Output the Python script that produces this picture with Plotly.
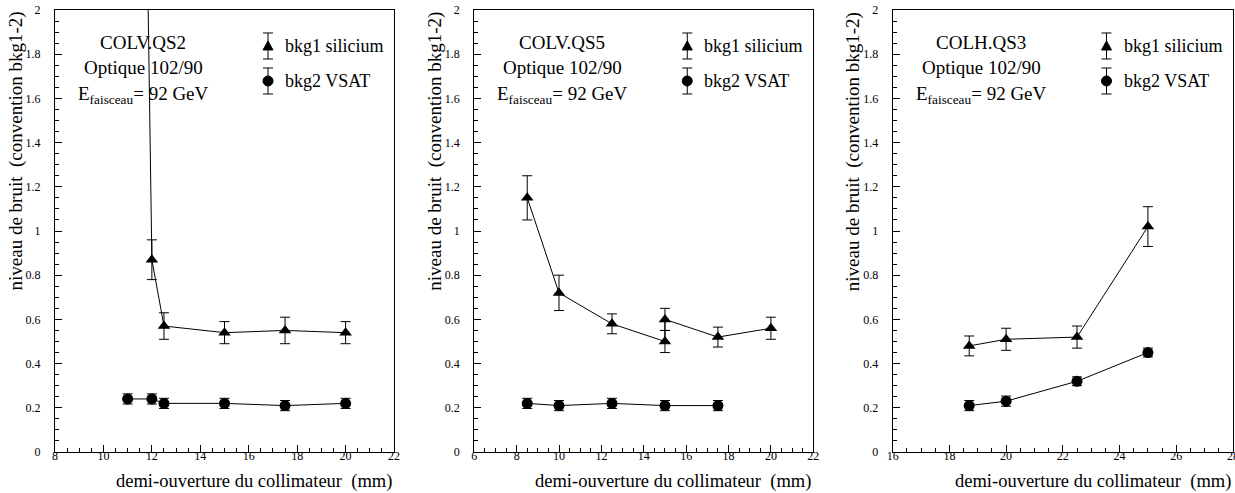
import plotly.graph_objects as go

# panel 1 : COLV.QS2
qs2_x_si = [11, 12, 12.5, 15, 17.5, 20]
qs2_y_si = [8.3, 0.87, 0.57, 0.54, 0.55, 0.54]
qs2_e_si = [0.3, 0.09, 0.06, 0.05, 0.06, 0.05]
qs2_x_vs = [11, 12, 12.5, 15, 17.5, 20]
qs2_y_vs = [0.24, 0.24, 0.22, 0.22, 0.21, 0.22]
qs2_e_vs = [0.023, 0.023, 0.023, 0.023, 0.023, 0.023]

# panel 2 : COLV.QS5
qs5_x_si = [8.5, 10, 12.5, 15, 15, 17.5, 20]
qs5_y_si = [1.15, 0.72, 0.58, 0.50, 0.60, 0.52, 0.56]
qs5_e_si = [0.10, 0.08, 0.045, 0.05, 0.05, 0.045, 0.05]
qs5_x_vs = [8.5, 10, 12.5, 15, 17.5]
qs5_y_vs = [0.22, 0.21, 0.22, 0.21, 0.21]
qs5_e_vs = [0.023, 0.023, 0.023, 0.023, 0.023]

# panel 3 : COLH.QS3
qs3_x_si = [18.7, 20, 22.5, 25]
qs3_y_si = [0.48, 0.51, 0.52, 1.02]
qs3_e_si = [0.045, 0.05, 0.05, 0.09]
qs3_x_vs = [18.7, 20, 22.5, 25]
qs3_y_vs = [0.21, 0.23, 0.32, 0.45]
qs3_e_vs = [0.023, 0.023, 0.02, 0.02]

titles = ["COLV.QS2", "COLV.QS5", "COLH.QS3"]
x_ranges = [[8, 22], [6, 22], [16, 28]]

panels = [
    (qs2_x_si, qs2_y_si, qs2_e_si, qs2_x_vs, qs2_y_vs, qs2_e_vs),
    (qs5_x_si, qs5_y_si, qs5_e_si, qs5_x_vs, qs5_y_vs, qs5_e_vs),
    (qs3_x_si, qs3_y_si, qs3_e_si, qs3_x_vs, qs3_y_vs, qs3_e_vs),
]

FONT = "Liberation Serif, Times New Roman, serif"
domains = [[0.0, 0.2878], [0.3559, 0.6437], [0.7111, 1.0]]
NB = "\u00a0"

fig = go.Figure()
layout = dict(
    width=1235, height=493,
    margin=dict(l=55, r=2, t=10, b=41, autoexpand=False),
    paper_bgcolor="white", plot_bgcolor="white",
    showlegend=False,
    font=dict(family=FONT, color="black"),
)
annotations = []
shapes = []

for i, (xs, ys, es, xv, yv, ev) in enumerate(panels):
    n = "" if i == 0 else str(i + 1)
    xa, ya = "x" + n, "y" + n
    err = lambda e: dict(type="data", array=e, visible=True, color="black",
                         thickness=1, width=5)
    fig.add_trace(go.Scatter(
        x=xs, y=ys, error_y=err(es), mode="lines+markers",
        line=dict(color="black", width=1),
        marker=dict(symbol="triangle-up", size=11, color="black"),
        xaxis=xa, yaxis=ya, name="bkg1 silicium"))
    fig.add_trace(go.Scatter(
        x=xv, y=yv, error_y=err(ev), mode="lines+markers",
        line=dict(color="black", width=1),
        marker=dict(symbol="circle", size=11, color="black"),
        xaxis=xa, yaxis=ya, name="bkg2 VSAT"))

    layout["xaxis" + n] = dict(
        domain=domains[i], range=x_ranges[i], anchor=ya,
        dtick=2, ticks="inside", ticklen=7, tickcolor="black",
        minor=dict(dtick=0.5, ticks="inside", ticklen=4, tickcolor="black"),
        showline=True, linecolor="black", linewidth=1, mirror=True,
        showgrid=False, zeroline=False, ticklabeloverflow="allow",
        automargin=False,
        tickfont=dict(size=12, family=FONT), ticklabelstandoff=-7)
    layout["yaxis" + n] = dict(
        domain=[0, 1], range=[0, 2], anchor=xa,
        dtick=0.2, ticks="inside", ticklen=7, tickcolor="black",
        minor=dict(dtick=0.05, ticks="inside", ticklen=4, tickcolor="black"),
        showline=True, linecolor="black", linewidth=1, mirror=True,
        showgrid=False, zeroline=False, ticklabeloverflow="allow",
        automargin=False,
        tickfont=dict(size=12, family=FONT), ticklabelstandoff=11)

    xd, yd = xa + " domain", ya + " domain"
    # labels inside the frame
    for txt, yy in [(titles[i], 0.9276), ("Optique 102/90", 0.8688),
                    ("E<sub>faisceau</sub>= 92 GeV", 0.8077)]:
        annotations.append(dict(text=txt, xref=xd, yref=yd, x=0.2596, y=yy,
                                xanchor="center", yanchor="middle",
                                showarrow=False, font=dict(size=19)))
    # legend
    for lab, yy in [("bkg1 silicium", 0.9186), ("bkg2 VSAT", 0.8394)]:
        annotations.append(dict(text=lab, xref=xd, yref=yd, x=0.6726, y=yy,
                                xanchor="left", yanchor="middle",
                                showarrow=False, font=dict(size=18)))
        common = dict(xref=xd, yref=yd, xsizemode="pixel", ysizemode="pixel",
                      xanchor=0.6283, yanchor=yy,
                      line=dict(color="black", width=1))
        shapes.append(dict(type="line", x0=0, x1=0, y0=-13, y1=13, **common))
        shapes.append(dict(type="line", x0=-5, x1=5, y0=13, y1=13, **common))
        shapes.append(dict(type="line", x0=-5, x1=5, y0=-13, y1=-13, **common))
        if lab.startswith("bkg1"):
            shapes.append(dict(type="path", path="M -5,-4 L 5,-4 L 0,5 Z",
                               fillcolor="black", **common))
        else:
            shapes.append(dict(type="circle", x0=-5, x1=5, y0=-5, y1=5,
                               fillcolor="black", **common))
    # axis titles
    annotations.append(dict(text="niveau de bruit " + NB + "(convention bkg1-2)",
                            xref=xd, yref=yd, x=0, y=1, xshift=-40,
                            textangle=-90, xanchor="center", yanchor="top",
                            showarrow=False, font=dict(size=19)))
    annotations.append(dict(text="demi-ouverture du collimateur " + NB + "(mm)",
                            xref=xd, yref=yd, x=1, y=0, yshift=-17,
                            xanchor="right", yanchor="top",
                            showarrow=False, font=dict(size=18.5)))

layout["annotations"] = annotations
layout["shapes"] = shapes
fig.update_layout(**layout)

# drop the default body margin so the figure sits at the page corner
fig.write_html("out.html", config={"displayModeBar": False},
               post_script="document.body.style.margin='0px';")
